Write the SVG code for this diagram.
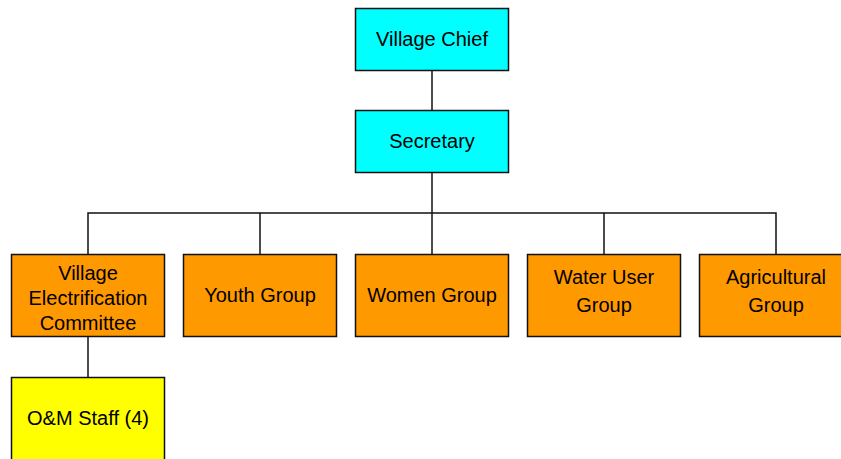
<svg xmlns="http://www.w3.org/2000/svg" width="841" height="459" viewBox="0 0 841 459">
  <style>
    .box { stroke: #111; stroke-width: 1.5; }
    .top { fill: #00FFFF; }
    .grp { fill: #FF9900; }
    .staff { fill: #FFFF00; }
    .lbl { font-family: "Liberation Sans", Arial, sans-serif; font-size: 20px; fill: #000; text-anchor: middle; dominant-baseline: central; }
    .wire { stroke: #111; stroke-width: 1.5; fill: none; }
  </style>
  <rect width="841" height="459" fill="#fff"/>

  <g id="connectors">
    <line class="wire" x1="432" y1="70" x2="432" y2="110"/>
    <line class="wire" x1="432" y1="172" x2="432" y2="213"/>
    <polyline class="wire" points="88,254 88,213 776,213 776,254"/>
    <line class="wire" x1="260" y1="213" x2="260" y2="254"/>
    <line class="wire" x1="432" y1="213" x2="432" y2="254"/>
    <line class="wire" x1="604" y1="213" x2="604" y2="254"/>
    <line class="wire" x1="88" y1="336" x2="88" y2="377"/>
  </g>

  <g id="village-chief">
    <rect class="box top" x="355.5" y="8.5" width="153" height="62"/>
    <text class="lbl" x="432" y="39">Village Chief</text>
  </g>

  <g id="secretary">
    <rect class="box top" x="355.5" y="110.5" width="153" height="62"/>
    <text class="lbl" x="432" y="141">Secretary</text>
  </g>

  <g id="electrification-committee">
    <rect class="box grp" x="11.5" y="254.5" width="153" height="82"/>
    <text class="lbl" x="88" y="273">Village</text>
    <text class="lbl" x="88" y="298">Electrification</text>
    <text class="lbl" x="88" y="323">Committee</text>
  </g>

  <g id="youth-group">
    <rect class="box grp" x="183.5" y="254.5" width="153" height="82"/>
    <text class="lbl" x="260" y="295">Youth Group</text>
  </g>

  <g id="women-group">
    <rect class="box grp" x="355.5" y="254.5" width="153" height="82"/>
    <text class="lbl" x="432" y="295">Women Group</text>
  </g>

  <g id="water-user-group">
    <rect class="box grp" x="527.5" y="254.5" width="153" height="82"/>
    <text class="lbl" x="604" y="277">Water User</text>
    <text class="lbl" x="604" y="305">Group</text>
  </g>

  <g id="agricultural-group">
    <rect class="box grp" x="699.5" y="254.5" width="153" height="82"/>
    <text class="lbl" x="776" y="277">Agricultural</text>
    <text class="lbl" x="776" y="305">Group</text>
  </g>

  <g id="om-staff">
    <rect class="box staff" x="11.5" y="377.5" width="153" height="90"/>
    <text class="lbl" x="88" y="418">O&amp;M Staff (4)</text>
  </g>
</svg>
